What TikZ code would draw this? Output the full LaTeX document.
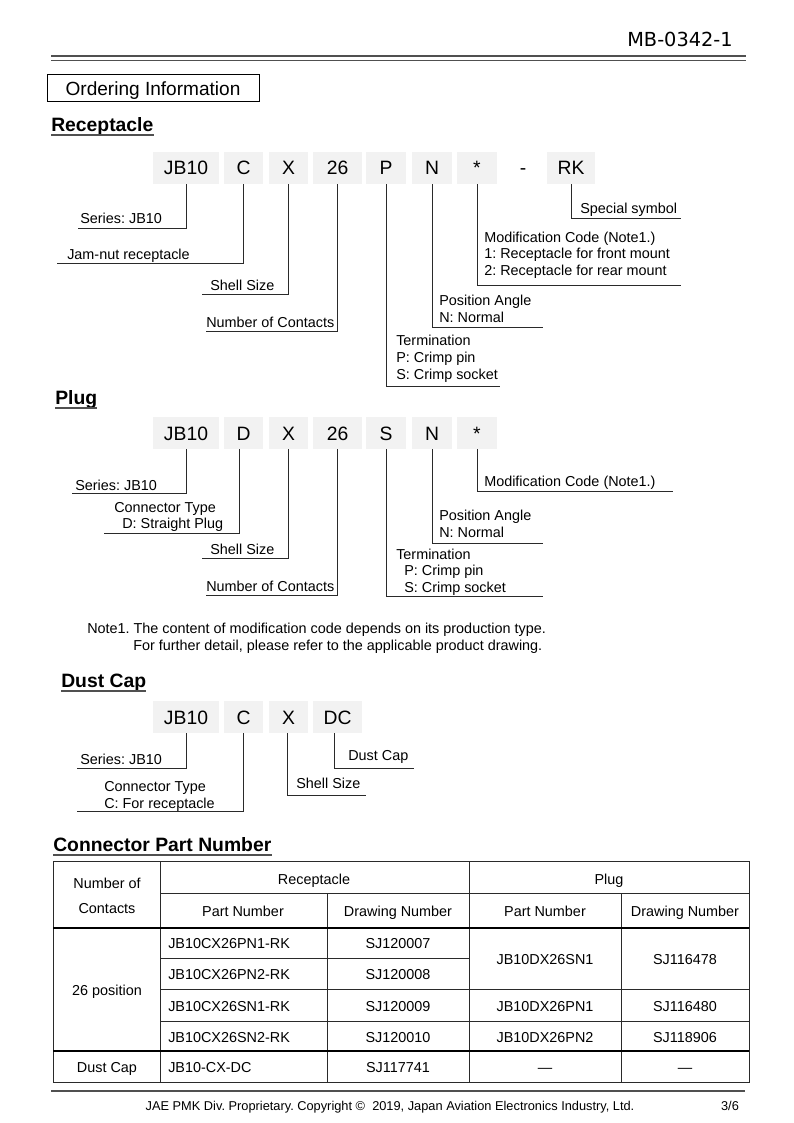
\documentclass[tikz,border=0pt]{standalone}
\usepackage{fontspec}
\setmainfont{Liberation Sans}
\newfontfamily\mbfont{DejaVu Sans}
\definecolor{boxgray}{HTML}{F2F2F2}
\definecolor{linegray}{HTML}{2A2A2A}
\definecolor{rulegray}{HTML}{505050}
\newcommand{\mlines}[1]{\vtop{#1}}
\frenchspacing
\begin{document}
\begin{tikzpicture}[x=0.75pt,y=-0.75pt,
  code/.style={fill=boxgray, minimum height=24pt, inner sep=0pt, text height=10.5pt, text depth=0pt, font=\fontsize{14.5}{17}\selectfont},
  lbl/.style={inner sep=0pt, anchor=west, text height=7.8pt, text depth=0pt, font=\fontsize{10.8}{12.6pt}\selectfont},
  tcell/.style={inner sep=0pt, text height=7.8pt, text depth=0pt, font=\fontsize{10.8}{12.6pt}\selectfont},
  lead/.style={draw=linegray, line width=0.75pt},
  head/.style={inner sep=0pt, anchor=west, text height=10.3pt, text depth=0pt, font=\fontsize{14.5}{16}\selectfont\bfseries},
  ul/.style={draw=rulegray, line width=1.3pt},
  grid/.style={draw=linegray, line width=0.75pt},
  gridb/.style={draw=black, line width=1pt}
]
\useasboundingbox[fill=white] (0,0) rectangle (793,1123);

% ---------- header ----------
\node[inner sep=0pt, text height=10.5pt, text depth=0pt, font=\mbfont\fontsize{14.5}{17}\selectfont] (docno) at (680,40) {MB-0342-1};
\draw[draw=rulegray, line width=1.6pt] (51,56) -- (746,56);
\draw[draw=rulegray, line width=1pt] (51,60.5) -- (746,60.5);
\node[draw=black, line width=0.75pt, minimum width=159pt, minimum height=20.25pt, inner sep=0pt, text height=10.2pt, text depth=0pt, font=\fontsize{14.3}{16}\selectfont] (ordinfo) at (153,88.5) {Ordering Information};

% ---------- Receptacle ----------
\node[head] (hrec) at (51,125) {Receptacle};
\draw[ul] ([yshift=-2.2pt]hrec.south west) -- ([yshift=-2.2pt]hrec.south east);

\node[code, minimum width=49.5pt] (rJB) at (186,168) {JB10};
\node[code, minimum width=29.5pt] (rC) at (243.5,168) {C};
\node[code, minimum width=29.5pt] (rX) at (288.5,168) {X};
\node[code, minimum width=37pt] (r26) at (337.5,168) {26};
\node[code, minimum width=30pt] (rP) at (386,168) {P};
\node[code, minimum width=30pt] (rN) at (432,168) {N};
\node[code, minimum width=30pt] (rS) at (477,168) {*};
\node[inner sep=0pt, text height=10.5pt, text depth=0pt, font=\fontsize{14.5}{17}\selectfont] (rD) at (523,168) {-};
\node[code, minimum width=36pt] (rRK) at (571,168) {RK};

\coordinate (rJBe) at (78,229);
\coordinate (rCe) at (57,263);
\coordinate (rXe) at (202,294);
\coordinate (r26e) at (206,331);
\coordinate (rPe) at (500,386);
\coordinate (rNe) at (543,327);
\coordinate (rSe) at (681,285);
\coordinate (rRKe) at (681,219);
\draw[lead] (rJB.south) |- (rJBe);
\draw[lead] (rC.south) |- (rCe);
\draw[lead] (rX.south) |- (rXe);
\draw[lead] (r26.south) |- (r26e);
\draw[lead] (rP.south) |- (rPe);
\draw[lead] (rN.south) |- (rNe);
\draw[lead] (rS.south) |- (rSe);
\draw[lead] (rRK.south) |- (rRKe);

\node[lbl] (lrJB) at (80,218) {Series: JB10};
\node[lbl] (lrC) at (67,254) {Jam-nut receptacle};
\node[lbl] (lrX) at (210,285) {Shell Size};
\node[lbl] (lr26) at (206,322) {Number of Contacts};
\node[lbl, font=\fontsize{10.8}{12.75pt}\selectfont] (lrP) at (396,340) {\mlines{\hbox{Termination}\hbox{P: Crimp pin}\hbox{S: Crimp socket}}};
\node[lbl] (lrN) at (439,300) {\mlines{\hbox{Position Angle}\hbox{N: Normal}}};
\node[lbl, font=\fontsize{10.8}{12.4pt}\selectfont] (lrS) at (484,237) {\mlines{\hbox{Modification Code (Note1.)}\hbox{1: Receptacle for front mount}\hbox{2: Receptacle for rear mount}}};
\node[lbl] (lrRK) at (580,208) {Special symbol};

% ---------- Plug ----------
\node[head] (hplug) at (55,398) {Plug};
\draw[ul] ([yshift=-2.2pt]hplug.south west) -- ([yshift=-2.2pt]hplug.south east);

\node[code, minimum width=49.5pt] (pJB) at (186,433) {JB10};
\node[code, minimum width=29.5pt] (pD) at (243.5,433) {D};
\node[code, minimum width=29.5pt] (pX) at (288.5,433) {X};
\node[code, minimum width=37pt] (p26) at (337.5,433) {26};
\node[code, minimum width=30pt] (pS) at (386,433) {S};
\node[code, minimum width=30pt] (pN) at (432,433) {N};
\node[code, minimum width=30pt] (pM) at (477,433) {*};

\coordinate (pJBe) at (72,493);
\coordinate (pDe) at (104,533);
\coordinate (pXe) at (202,558);
\coordinate (p26e) at (206,595);
\coordinate (pSe) at (543,596);
\coordinate (pNe) at (543,543);
\coordinate (pMe) at (673,491);
\draw[lead] (pJB.south) |- (pJBe);
\draw[lead] ([xshift=-3pt]pD.south) |- (pDe);
\draw[lead] (pX.south) |- (pXe);
\draw[lead] (p26.south) |- (p26e);
\draw[lead] (pS.south) |- (pSe);
\draw[lead] (pN.south) |- (pNe);
\draw[lead] (pM.south) |- (pMe);

\node[lbl] (lpJB) at (75,485) {Series: JB10};
\node[lbl, font=\fontsize{10.8}{12pt}\selectfont] (lpD) at (114,507) {\mlines{\hbox{Connector Type}\hbox{\kern6pt D: Straight Plug}}};
\node[lbl] (lpX) at (210,549) {Shell Size};
\node[lbl] (lp26) at (206,586) {Number of Contacts};
\node[lbl, font=\fontsize{10.8}{12.4pt}\selectfont] (lpS) at (396,554) {\mlines{\hbox{Termination}\hbox{\kern6pt P: Crimp pin}\hbox{\kern6pt S: Crimp socket}}};
\node[lbl] (lpN) at (439,515) {\mlines{\hbox{Position Angle}\hbox{N: Normal}}};
\node[lbl] (lpM) at (484,481) {Modification Code (Note1.)};

% ---------- Note ----------
\node[lbl, font=\fontsize{10.8}{12.75pt}\selectfont] (note) at (87,628) {\mlines{\hbox{Note1. The content of modification code depends on its production type.}\hbox{\kern34.5pt For further detail, please refer to the applicable product drawing.}}};

% ---------- Dust Cap ----------
\node[head] (hdc) at (61,681) {Dust Cap};
\draw[ul] ([yshift=-2.2pt]hdc.south west) -- ([yshift=-2.2pt]hdc.south east);

\node[code, minimum width=49.5pt] (dJB) at (186,717) {JB10};
\node[code, minimum width=29.5pt] (dC) at (243.5,717) {C};
\node[code, minimum width=29.5pt] (dX) at (288.5,717) {X};
\node[code, minimum width=37pt] (dDC) at (337.5,717) {DC};

\coordinate (dJBe) at (77,768);
\coordinate (dCe) at (77,811);
\coordinate (dXe) at (366,795);
\coordinate (dDCe) at (414,768);
\draw[lead] (dJB.south) |- (dJBe);
\draw[lead] (dC.south) |- (dCe);
\draw[lead] ([xshift=-1pt]dX.south) |- (dXe);
\draw[lead] ([xshift=-2pt]dDC.south) |- (dDCe);

\node[lbl] (ldJB) at (80,759) {Series: JB10};
\node[lbl] (ldC) at (104,786) {\mlines{\hbox{Connector Type}\hbox{C: For receptacle}}};
\node[lbl] (ldX) at (296,783) {Shell Size};
\node[lbl] (ldDC) at (348,755) {Dust Cap};

% ---------- Connector Part Number ----------
\node[head] (hcpn) at (53,845) {Connector Part Number};
\draw[ul] ([yshift=-2.2pt]hcpn.south west) -- ([yshift=-2.2pt]hcpn.south east);

\draw[grid] (53,861) rectangle (749,1082);
\draw[grid] (160,861) -- (160,1082);
\draw[grid] (469,861) -- (469,1082);
\draw[grid] (327,893) -- (327,1082);
\draw[grid] (621,893) -- (621,1082);
\draw[grid] (160,893) -- (749,893);
\draw[gridb] (53,928) -- (749,928);
\draw[grid] (160,958) -- (469,958);
\draw[grid] (160,989) -- (749,989);
\draw[grid] (160,1021) -- (749,1021);
\draw[gridb] (53,1051) -- (749,1051);

\node[tcell] (t1) at (107,883) {Number of};
\node[tcell] (t2) at (107,908) {Contacts};
\node[tcell] (t3) at (314,879) {Receptacle};
\node[tcell] (t4) at (609,879) {Plug};
\node[tcell] (t5) at (243,911) {Part Number};
\node[tcell] (t6) at (398,911) {Drawing Number};
\node[tcell] (t7) at (545,911) {Part Number};
\node[tcell] (t8) at (685,911) {Drawing Number};
\node[tcell] (t9) at (107,990) {26 position};
\node[tcell, anchor=west] (r1a) at (168,943) {JB10CX26PN1-RK};
\node[tcell] (r1b) at (398,943) {SJ120007};
\node[tcell, anchor=west] (r2a) at (168,974) {JB10CX26PN2-RK};
\node[tcell] (r2b) at (398,974) {SJ120008};
\node[tcell, anchor=west] (r3a) at (168,1006) {JB10CX26SN1-RK};
\node[tcell] (r3b) at (398,1006) {SJ120009};
\node[tcell, anchor=west] (r4a) at (168,1037) {JB10CX26SN2-RK};
\node[tcell] (r4b) at (398,1037) {SJ120010};
\node[tcell] (p1a) at (545,959) {JB10DX26SN1};
\node[tcell] (p1b) at (685,959) {SJ116478};
\node[tcell] (p3a) at (545,1006) {JB10DX26PN1};
\node[tcell] (p3b) at (685,1006) {SJ116480};
\node[tcell] (p4a) at (545,1037) {JB10DX26PN2};
\node[tcell] (p4b) at (685,1037) {SJ118906};
\node[tcell] (dc1) at (107,1067) {Dust Cap};
\node[tcell, anchor=west] (dc2) at (168,1067) {JB10-CX-DC};
\node[tcell] (dc3) at (398,1067) {SJ117741};
\node[tcell] (dc4) at (545,1067) {—};
\node[tcell] (dc5) at (685,1067) {—};

% ---------- footer ----------
\draw[draw=rulegray, line width=2pt] (51,1091) -- (745,1091);
\node[inner sep=0pt, text height=7pt, text depth=0pt, font=\fontsize{9.6}{11}\selectfont] (foot) at (390,1106) {JAE PMK Div. Proprietary. Copyright \textcopyright\ \ 2019, Japan Aviation Electronics Industry, Ltd.};
\node[inner sep=0pt, text height=7pt, text depth=0pt, font=\fontsize{9.6}{11}\selectfont] (page) at (730,1106) {3/6};
\end{tikzpicture}
\end{document}
